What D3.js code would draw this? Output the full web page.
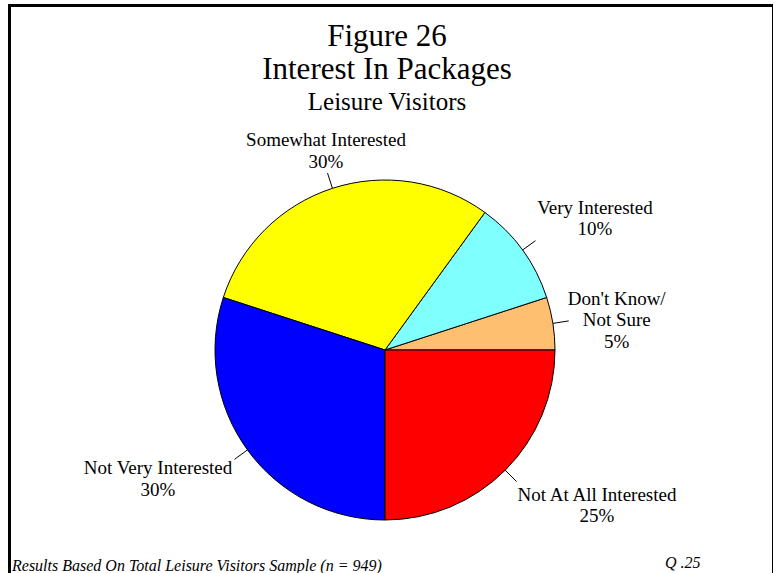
<!DOCTYPE html>
<html>
<head>
<meta charset="utf-8">
<script src="https://cdn.jsdelivr.net/npm/d3@7"></script>
<style>
  html, body { margin: 0; padding: 0; background: #fff; }
  svg { display: block; }
  text { font-family: "Liberation Serif", "Times New Roman", serif; fill: #000; }
</style>
</head>
<body>
<svg id="chart" width="774" height="573"></svg>
<script>
// ---- data ----
const categories = ["Don't Know/\nNot Sure", "Very Interested", "Somewhat Interested", "Not Very Interested", "Not At All Interested"];
const values = [5, 10, 30, 30, 25];
const percentLabels = ["5%", "10%", "30%", "30%", "25%"];
const colors = ["#FFBF70", "#80FFFF", "#FFFF00", "#0000FF", "#FF0000"];
const titleLines = ["Figure 26", "Interest In Packages", "Leisure Visitors"];
const footnote = "Results Based On Total Leisure Visitors Sample (n = 949)";
const questionRef = "Q .25";

// ---- layout (first-baseline offsets from leader-line end) ----
const labelOffsets = [[48, -16], [59.5, -27], [-1.5, -27], [-76.5, 15], [80.5, 19]];

const svg = d3.select("#chart");
const W = 774, H = 573;

// frame
svg.append("line").attr("x1", 8).attr("y1", 5.5).attr("x2", 773).attr("y2", 5.5).attr("stroke", "#000").attr("stroke-width", 3);
svg.append("line").attr("x1", 9.5).attr("y1", 4).attr("x2", 9.5).attr("y2", H).attr("stroke", "#000").attr("stroke-width", 3);
svg.append("line").attr("x1", 772.5).attr("y1", 4).attr("x2", 772.5).attr("y2", H).attr("stroke", "#000").attr("stroke-width", 1);

// titles
const titleSizes = [31, 31, 25];
const titleY = [46, 79, 110];
titleLines.forEach((t, i) => {
  svg.append("text").attr("x", 387).attr("y", titleY[i]).attr("text-anchor", "middle")
    .attr("font-size", titleSizes[i]).text(t);
});

// pie
const cx = 385, cy = 350, R = 170;
const pie = d3.pie().sort(null).value(d => d)
  .startAngle(Math.PI / 2).endAngle(Math.PI / 2 - 2 * Math.PI);
const arcs = pie(values);
const arc = d3.arc().innerRadius(0).outerRadius(R);
const g = svg.append("g").attr("transform", `translate(${cx},${cy})`);
g.selectAll("path.slice").data(arcs).enter().append("path")
  .attr("class", "slice")
  .attr("d", arc)
  .attr("fill", (d, i) => colors[i])
  .attr("stroke", "#000").attr("stroke-width", 1).attr("stroke-linejoin", "round");

// leader lines and labels
const lineH = 21.5;
arcs.forEach((d, i) => {
  const a = (d.startAngle + d.endAngle) / 2;
  const p1 = [Math.sin(a) * R, -Math.cos(a) * R];
  const p2 = [Math.sin(a) * (R + 16), -Math.cos(a) * (R + 16)];
  g.append("line").attr("x1", p1[0]).attr("y1", p1[1]).attr("x2", p2[0]).attr("y2", p2[1])
    .attr("stroke", "#000").attr("stroke-width", 1);
  const lines = categories[i].split("\n").concat([percentLabels[i]]);
  const lx = p2[0] + labelOffsets[i][0];
  const ly = p2[1] + labelOffsets[i][1];
  const t = g.append("text").attr("text-anchor", "middle").attr("font-size", 19);
  lines.forEach((s, j) => {
    t.append("tspan").attr("x", lx).attr("y", ly + j * lineH).text(s);
  });
});

// footer
svg.append("text").attr("x", 12).attr("y", 571).attr("font-size", 16).attr("font-style", "italic").text(footnote);
svg.append("text").attr("x", 665).attr("y", 568).attr("font-size", 16).attr("font-style", "italic").text(questionRef);
</script>
</body>
</html>
